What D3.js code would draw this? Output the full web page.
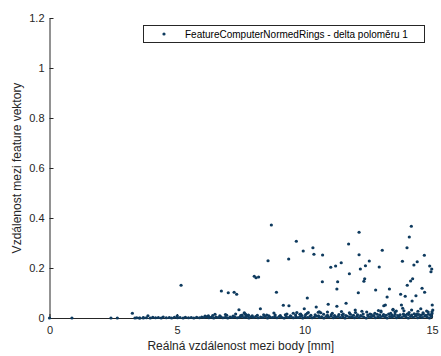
<!DOCTYPE html>
<html>
<head>
<meta charset="utf-8">
<script src="https://cdn.jsdelivr.net/npm/d3@7"></script>
<style>
  html, body { margin: 0; padding: 0; background: #fff; }
  svg { display: block; font-family: "Liberation Sans", Arial, Helvetica, sans-serif; }
</style>
</head>
<body>
<svg id="chart" width="441" height="356"></svg>
<script>
// Axis ticks
const xTicks = [0, 5, 10, 15];
const yTicks = [0, 0.2, 0.4, 0.6, 0.8, 1, 1.2];

// Text
const xLabel = "Reálná vzdálenost mezi body [mm]";
const yLabel = "Vzdálenost mezi feature vektory";
const seriesName = "FeatureComputerNormedRings - delta poloměru 1";

// Pairs that sit exactly on zero at short distances
const zeroPoints = [
  [0, 0], [0.88, 0], [2.41, 0], [2.66, 0], [3.35, 0], [3.52, 0], [3.68, 0]
];

// Dense strip of near-zero distances
const lowBand = [
  [3.42,.001],[3.55,.000],[3.68,.002],[3.80,.001],[3.95,.000],[4.05,.003],[4.16,.001],[4.27,.002],
  [4.38,.000],[4.46,.004],[4.58,.001],[4.70,.002],[4.79,.000],[4.90,.003],[5.02,.001],[5.12,.002],
  [5.24,.000],[5.33,.003],[5.45,.001],[5.56,.002],[5.66,.000],[5.77,.003],[5.88,.001],[5.97,.004],
  [6.06,.002],[6.15,.005],[6.25,.001],[6.34,.003],[6.44,.000],[6.53,.004],[6.62,.002],[6.71,.005],
  [6.80,.001],[6.90,.003],[6.99,.000],[7.08,.004],[7.17,.002],[7.26,.005],[7.36,.001],[7.45,.003],
  [7.54,.006],[7.63,.002],[7.72,.004],[7.82,.000],[7.91,.005],[8.00,.002],[8.09,.006],[8.18,.001],
  [8.28,.004],[8.37,.002],[8.46,.006],[8.55,.000],[8.64,.004],[8.74,.002],[8.83,.005],[8.92,.001],
  [9.01,.006],[9.10,.003],[9.20,.000],[9.29,.005],[9.38,.002],[9.47,.006],[9.56,.001],[9.66,.004],
  [9.75,.002],[9.84,.006],[9.93,.000],[10.02,.005],[10.12,.002],[10.21,.006],[10.30,.001],[10.39,.004],
  [10.48,.007],[10.58,.002],[10.67,.005],[10.76,.000],[10.85,.006],[10.94,.003],[11.04,.007],[11.13,.001],
  [11.22,.004],[11.31,.006],[11.40,.002],[11.50,.005],[11.59,.000],[11.68,.007],[11.77,.003],[11.86,.005],
  [11.96,.001],[12.05,.006],[12.14,.002],[12.23,.007],[12.32,.004],[12.42,.000],[12.51,.006],[12.60,.003],
  [12.69,.007],[12.78,.001],[12.88,.005],[12.97,.002],[13.06,.007],[13.15,.004],[13.24,.000],[13.34,.006],
  [13.43,.003],[13.52,.007],[13.61,.001],[13.70,.005],[13.80,.002],[13.89,.007],[13.98,.004],[14.07,.000],
  [14.16,.006],[14.26,.003],[14.35,.007],[14.44,.001],[14.53,.005],[14.62,.002],[14.72,.007],[14.81,.004],
  [14.90,.000],[14.98,.006]
];

// Small bumps just above the strip
const smallBumps = [
  [6.10,.008],[6.40,.010],[6.68,.009],[6.95,.011],[7.20,.008],[7.50,.010],[7.70,.012],[7.95,.009],
  [8.15,.011],[8.40,.013],[8.60,.009],[8.85,.012],[9.05,.010],[9.25,.013],[9.45,.009],[9.65,.012],
  [9.90,.010],[10.05,.014],[10.25,.011],[10.42,.013],[10.55,.009],[10.75,.015],[10.90,.011],[11.05,.013],
  [11.18,.010],[11.35,.014],[11.48,.012],[11.62,.010],[11.80,.015],[11.92,.011],[12.08,.013],[12.20,.010],
  [12.30,.016],[12.48,.012],[12.62,.014],[12.72,.010],[12.85,.015],[12.95,.012],[13.10,.014],[13.20,.011],
  [13.30,.016],[13.42,.012],[13.55,.015],[13.66,.010],[13.75,.013],[13.88,.016],[13.95,.011],[14.08,.014],
  [14.20,.012],[14.30,.017],[14.38,.011],[14.48,.014],[14.58,.012],[14.66,.016],[14.76,.011],[14.86,.015],
  [14.94,.012],[15.00,.018],
  [10.15,.022],[10.90,.024],[11.45,.026],[12.00,.022],[12.25,.027],[12.90,.030],[13.55,.024],[13.90,.029],
  [14.10,.022],[14.45,.027],[14.65,.021],[14.85,.024],[8.80,.020],[9.70,.022],[7.30,.016],[6.90,.014]
];

// Scattered larger distances
const outliers = [
  [5.16,.131],[6.74,.108],[7.01,.101],[7.24,.103],[7.34,.095],[8.03,.167],[8.10,.161],[8.20,.164],
  [7.43,.033],[7.64,.021],[6.49,.015],[8.70,.372],[9.68,.307],[8.57,.229],[9.38,.236],[9.95,.268],
  [10.33,.281],[10.37,.255],[10.71,.252],[11.73,.296],[11.03,.203],[11.22,.208],[11.44,.221],[8.90,.103],
  [10.70,.145],[11.30,.145],[11.27,.116],[10.11,.080],[8.27,.037],[9.17,.051],[9.39,.049],[9.99,.037],
  [10.46,.044],[10.93,.055],[11.27,.047],[11.63,.059],[11.76,.177],[12.14,.343],[14.19,.367],[14.11,.324],
  [12.14,.253],[13.05,.271],[14.02,.281],[12.54,.228],[13.84,.227],[14.70,.251],[14.42,.225],[14.29,.212],
  [12.39,.209],[12.19,.196],[12.93,.204],[14.91,.208],[14.99,.196],[14.96,.185],[12.36,.157],[12.33,.147],
  [14.24,.157],[14.16,.148],[14.03,.131],[14.61,.119],[14.71,.103],[13.33,.116],[12.79,.112],[12.11,.101],
  [13.77,.095],[13.95,.087],[13.24,.084],[14.37,.089],[14.22,.068],[15.01,.052],[3.25,.019],[3.86,.009],
  [10.58,.025],[9.31,.016],[9.56,.019],[9.82,.015],[11.99,.032],[12.44,.024],[13.11,.049],[13.17,.052],
  [13.00,.024],[13.80,.052],[13.85,.039],[13.47,.032],[13.60,.028],[14.20,.032],[14.56,.037],[14.79,.028],
  [15.03,.032],[10.64,.021],[11.09,.019],[11.52,.016],[11.76,.021],[12.57,.016],[12.76,.019],[13.38,.019],
  [14.03,.016],[14.40,.016],[7.80,.009],[8.52,.012],[6.23,.005],[5.01,.009],[13.47,.035],[15.00,.025],
  [13.00,.028],[10.54,.023],[9.85,.016],[10.11,.019],[6.23,.009],[7.56,.012],[7.80,.012],[7.68,.016]
];

const points = [].concat(zeroPoints, lowBand, smallBumps, outliers);

const axisColor = "#262626";
const dotColor = "#0e3a5e";

const svg = d3.select("#chart");

const x = d3.scaleLinear().domain([0, 15]).range([49.5, 432]);
const y = d3.scaleLinear().domain([0, 1.2]).range([318, 18]);

// Axes (MATLAB style: ticks pointing inward, no box)
const xAxis = d3.axisBottom(x).tickValues(xTicks).tickFormat(d3.format("d"))
  .tickSizeInner(-4).tickSizeOuter(0).tickPadding(8);
const yAxis = d3.axisLeft(y).tickValues(yTicks).tickFormat(d => d === 0 ? "0" : d3.format("~g")(d))
  .tickSizeInner(-4).tickSizeOuter(0).tickPadding(5);

const gx = svg.append("g").attr("transform", `translate(0,${y(0)})`).call(xAxis);
const gy = svg.append("g").attr("transform", `translate(${x(0)},0)`).call(yAxis);

[gx, gy].forEach(g => {
  g.select(".domain").attr("stroke", axisColor).attr("stroke-width", 1);
  g.selectAll(".tick line").attr("stroke", axisColor).attr("stroke-width", 1);
  g.selectAll(".tick text").attr("fill", axisColor).attr("font-size", 11)
    .attr("font-family", "'Liberation Sans', Arial, sans-serif");
});

// Points
svg.append("g")
  .selectAll("circle")
  .data(points)
  .join("circle")
  .attr("cx", d => x(d[0]))
  .attr("cy", d => y(d[1]))
  .attr("r", 1.6)
  .attr("fill", dotColor);

// Axis labels
svg.append("text")
  .attr("x", (x.range()[0] + x.range()[1]) / 2)
  .attr("y", 350)
  .attr("text-anchor", "middle")
  .attr("font-size", 12)
  .attr("fill", axisColor)
  .text(xLabel);

svg.append("text")
  .attr("transform", `translate(21,${(y.range()[0] + y.range()[1]) / 2}) rotate(-90)`)
  .attr("text-anchor", "middle")
  .attr("font-size", 12)
  .attr("fill", axisColor)
  .text(yLabel);

// Legend
const legend = svg.append("g");
legend.append("rect")
  .attr("x", 143.5).attr("y", 25.5)
  .attr("width", 281).attr("height", 17)
  .attr("fill", "#fff").attr("stroke", axisColor).attr("stroke-width", 1);
legend.append("circle")
  .attr("cx", 164).attr("cy", 34)
  .attr("r", 1.6).attr("fill", dotColor);
legend.append("text")
  .attr("x", 185).attr("y", 37.5)
  .attr("font-size", 10)
  .attr("fill", "#000")
  .text(seriesName);
</script>
</body>
</html>
